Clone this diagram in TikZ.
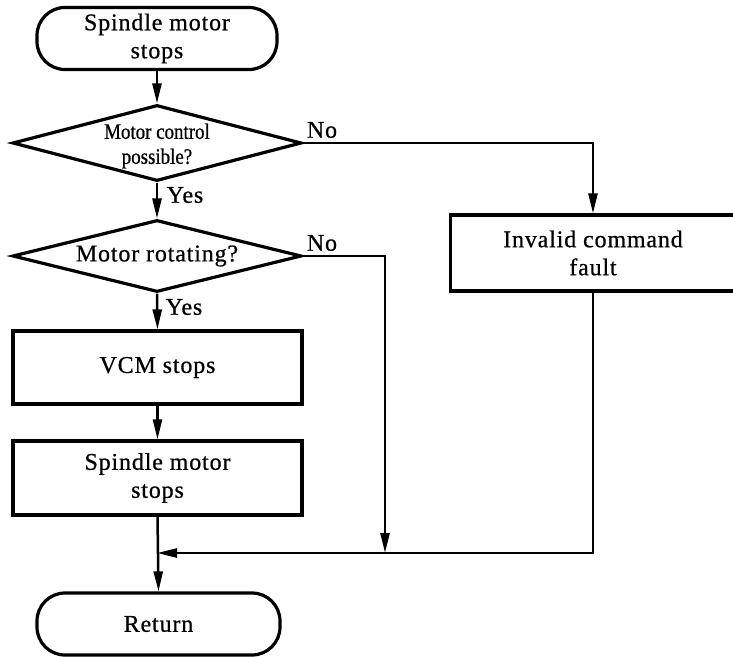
\documentclass[tikz,border=0pt]{standalone}
\usepackage{fontspec}
\setmainfont{Liberation Serif}[LetterSpace=3.5, FakeBold=0.7]
\newfontfamily\condfont{Liberation Serif}[FakeStretch=0.86, FakeBold=0.7]
\usetikzlibrary{shapes.geometric,arrows.meta}
\begin{document}
\begin{tikzpicture}[x=1pt,y=-1pt,
  every node/.style={font=\fontsize{24}{28}\selectfont},
  terminal/.style={draw, line width=3.2pt, rounded corners=28pt,
    minimum width=240pt, minimum height=62pt, align=center, inner sep=0pt},
  process/.style={draw, line width=3.2pt, minimum width=289pt,
    minimum height=73pt, align=center, inner sep=0pt},
  decision/.style={draw, diamond, line width=3.2pt, minimum width=289pt,
    inner sep=0pt},
  flow/.style={line width=2.5pt, -{Triangle[length=20pt,width=9pt]}},
  branch/.style={inner sep=0pt}]
\useasboundingbox (0,0) rectangle (733,656);

% main column
\node[terminal] (start) at (157,38.5) {Spindle motor\\stops};
\node[decision, minimum height=76pt] (d1) at (157,143) {};
\node[font=\condfont\fontsize{22}{25}\selectfont, align=center] (d1t) at (157,146) {Motor control\\possible?};
\node[decision, minimum height=72pt] (d2) at (157,256) {};
\node (d2t) at (157,256) {Motor rotating?};
\node[process] (vcm) at (157.5,367.5) {VCM stops};
\node[process, minimum height=74pt] (spin) at (157.5,478) {Spindle motor\\stops};
\node[terminal, minimum width=243pt] (ret) at (158.5,624) {Return};

% fault branch
\node[process, minimum width=285pt, minimum height=76pt] (inv) at (593,253)
  {Invalid command\\fault};

% junction points on the return line
\coordinate (m1) at (157,553);
\coordinate (m2) at (385,553);

% connectors
\draw[flow] (start.south) -- (d1.north);
\draw[flow] (d1.south) -- (d2.north);
\draw[flow] (d1.east) -| (inv.north);
\draw[flow] (d2.south) -- (vcm.north);
\draw[flow] (d2.east) -| (m2);
\draw[flow] (vcm.south) -- (spin.north);
\draw[flow] (spin.south) -- (ret.north);
\draw[flow] (inv.south) |- (m1);

% branch labels
\node[branch] (no1) at (322,130) {No};
\node[branch] (yes1) at (185,195) {Yes};
\node[branch] (no2) at (322,243) {No};
\node[branch] (yes2) at (184,307) {Yes};
\end{tikzpicture}
\end{document}
